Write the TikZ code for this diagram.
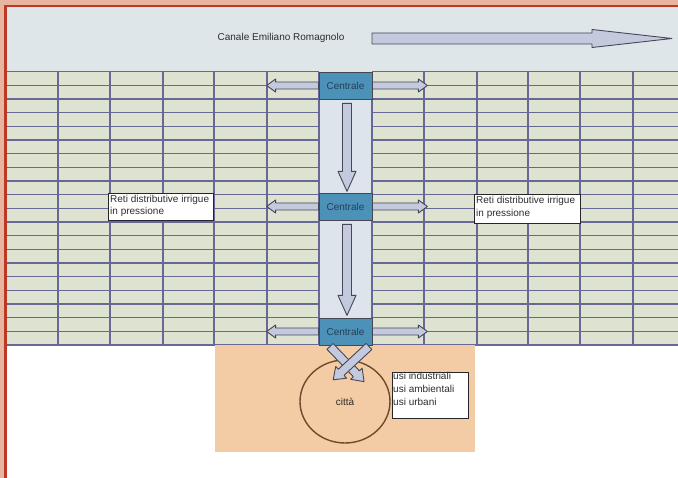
\documentclass[tikz,border=0pt]{standalone}
\usepackage{fontspec}
\setmainfont{Liberation Sans}
\usetikzlibrary{calc,shapes.geometric}
\definecolor{peach}{RGB}{232,182,160}
\definecolor{framered}{RGB}{186,58,38}
\definecolor{topbg}{RGB}{223,230,234}
\definecolor{gridbg}{RGB}{222,226,208}
\definecolor{colbg}{RGB}{221,228,236}
\definecolor{gridline}{RGB}{104,104,150}
\definecolor{central}{RGB}{76,146,184}
\definecolor{centraltext}{RGB}{36,64,88}
\definecolor{arrowfill}{RGB}{196,202,222}
\definecolor{arrowline}{RGB}{70,70,84}
\definecolor{bigarrow}{RGB}{166,176,202}
\definecolor{citybg}{RGB}{243,203,164}
\definecolor{sack}{RGB}{110,74,44}
\definecolor{txtcol}{RGB}{45,45,45}
\tikzset{
  gline/.style={draw=gridline, line width=1.35pt},
  centrale/.style={draw=arrowline, line width=0.8pt, fill=central, minimum width=53pt,
    minimum height=27pt, inner sep=0pt, font=\fontsize{10}{12}\selectfont, text=centraltext},
  labelbox/.style={draw=black!85, fill=white, line width=0.9pt, inner sep=0pt, anchor=north west},
  txtn/.style={font=\fontsize{10}{12.4}\selectfont, text=txtcol, align=left, inner sep=0pt, anchor=north west},
  barrowstyle/.style={draw=arrowline, fill=arrowfill, line width=0.9pt, line join=round},
  pics/barrow/.style n args={4}{code={
    \draw[barrowstyle, pic actions] (0pt,-#2) -- ({#1-#4},-#2) -- ({#1-#4},-#3) -- (#1,0pt)
      -- ({#1-#4},#3) -- ({#1-#4},#2) -- (0pt,#2) -- cycle;
  }}
}
\begin{document}
\begin{tikzpicture}[x=1pt,y=-1pt]
\useasboundingbox (0,0) rectangle (678,478);
% backgrounds
\fill[white] (0,0) rectangle (678,478);
\fill[topbg] (7,7) rectangle (678,71);
\fill[gridbg] (7,71) rectangle (678,345);
\fill[colbg] (319,71) rectangle (372,345);
% grid
\foreach \k in {0,...,20} {
  \draw[gline] (7,{71.7+13.67*\k}) -- (319,{71.7+13.67*\k});
  \draw[gline] (372,{71.7+13.67*\k}) -- (678,{71.7+13.67*\k});
}
\foreach \gx in {58,110,163,214,267,319,372,424,477,528,580,633}
  \draw[gline] (\gx,71.7) -- (\gx,345);
% city area
\fill[citybg] (215,345) rectangle (475,452);
% top arrow and title
\node[txtn, anchor=center] (canale) at (281,37.5) {Canale Emiliano Romagnolo};
\coordinate (cstart) at (372,38.5);
\pic[fill=bigarrow] at (cstart) {barrow={300pt}{5.5pt}{9pt}{80pt}};
% centrali
\node[centrale] (c1) at (345.5,85.5) {Centrale};
\node[centrale] (c2) at (345.5,206.5) {Centrale};
\node[centrale] (c3) at (345.5,331.5) {Centrale};
% side arrows
\foreach \c in {c1,c2,c3} {
  \pic[rotate=180] at (\c.west) {barrow={52pt}{3.5pt}{6.5pt}{9pt}};
  \pic at (\c.east) {barrow={55pt}{3.5pt}{6.5pt}{9pt}};
}
% vertical arrows
\pic[rotate=-90] at ($(c1.south)+(1.5,4)$) {barrow={88pt}{4.5pt}{9pt}{20pt}};
\pic[rotate=-90] at ($(c2.south)+(1.5,4)$) {barrow={91pt}{4.5pt}{9pt}{20pt}};
% label boxes
\node[labelbox, minimum width=105pt, minimum height=27pt] (lbox) at (108,193) {};
\node[txtn] (ltext) at (110,195) {Reti distributive irrigue\\in pressione};
\node[labelbox, minimum width=106pt, minimum height=29pt] (rbox) at (474,194) {};
\node[txtn] (rtext) at (476,196.3) {Reti distributive irrigue\\in pressione};
% city
\node[draw=sack, line width=1.4pt, ellipse, minimum width=90pt, minimum height=83pt,
  inner sep=0pt, font=\fontsize{10}{12}\selectfont, text=txtcol] (citta) at (345,401.5) {città};
\pic[rotate=-46] at ($(c3.south)+(-15.5,1)$) {barrow={49pt}{4.2pt}{8pt}{11pt}};
\pic[rotate=-137] at ($(c3.south)+(23.5,1)$) {barrow={49pt}{4.2pt}{8pt}{11pt}};
\node[labelbox, minimum width=76pt, minimum height=46pt] (ubox) at (392,372) {};
\node[txtn, font=\fontsize{10}{13}\selectfont] (utext) at (393,372.5) {usi industriali\\usi ambientali\\usi urbani};
% frame
\fill[peach] (0,0) rectangle (678,5);
\fill[peach] (0,0) rectangle (4,478);
\fill[framered] (4,5) rectangle (678,7.5);
\fill[framered] (4,5) rectangle (7,478);
\end{tikzpicture}
\end{document}
